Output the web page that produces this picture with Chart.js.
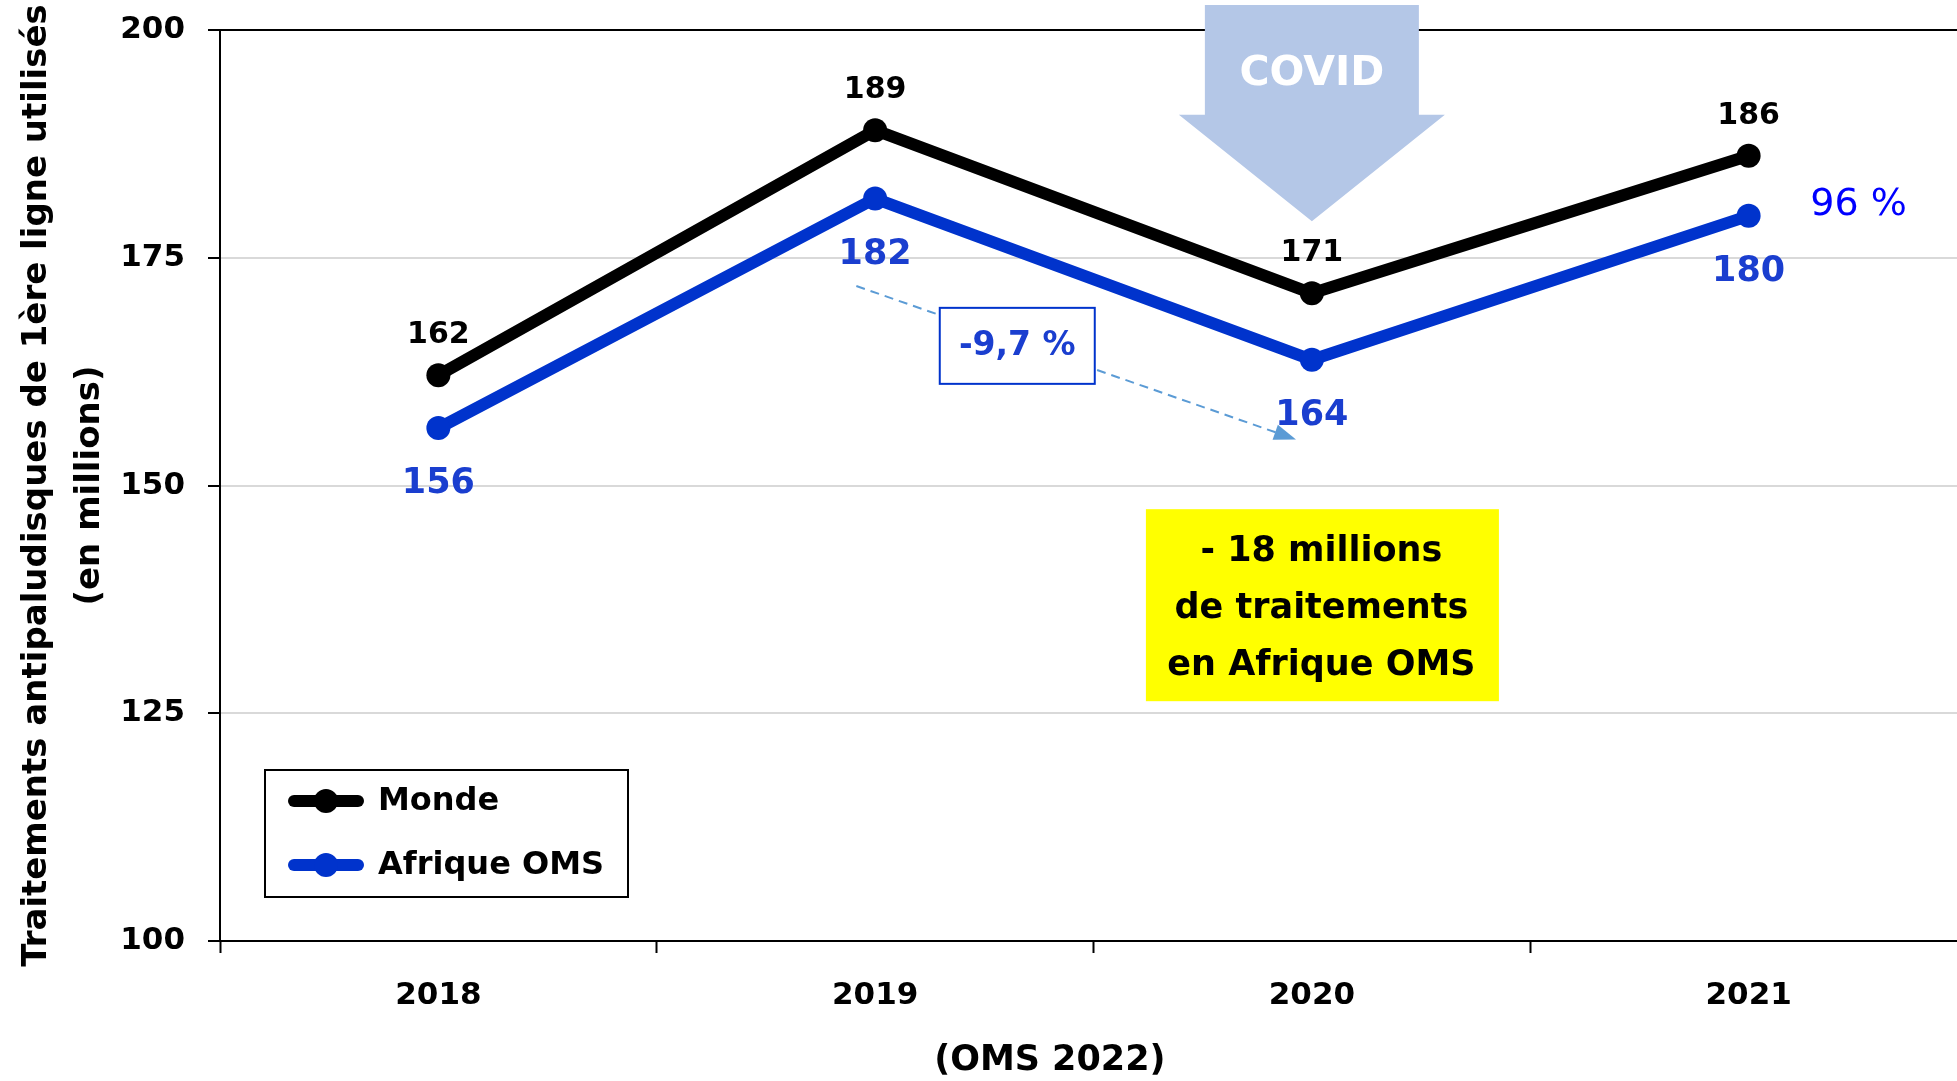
<!DOCTYPE html>
<html><head><meta charset="utf-8">
<script src="https://cdn.jsdelivr.net/npm/chart.js@4.4.0/dist/chart.umd.min.js"></script>
<style>
html,body{margin:0;padding:0;background:#fff;overflow:hidden;width:1957px;height:1081px}
#wrap{position:relative;width:1980px;height:1081px}
</style></head>
<body><div id="wrap"><canvas id="c" width="1980" height="1081"></canvas></div>
<script>
const categories = ['2018', '2019', '2020', '2021'];
const seriesNames = ['Monde', 'Afrique OMS'];
const mondeValues = [162.1, 189.0, 171.1, 186.2];
const afriqueValues = [156.3, 181.5, 163.8, 179.6];
const mondeLabels = ['162', '189', '171', '186'];
const afriqueLabels = ['156', '182', '164', '180'];
const yMin = 100, yMax = 200, yStep = 25;
const yTitleLines = ['Traitements antipaludisques de 1ère ligne utilisés', '(en millions)'];
const xTitle = '(OMS 2022)';
const covidText = 'COVID';
const changeText = '-9,7 %';
const shareText = '96 %';
const boxLines = ['- 18 millions', 'de traitements', 'en Afrique OMS'];

const FONT = '"DejaVu Sans", sans-serif';
const BLACK = '#000000';
const BLUE = '#0033CC';
const BLUE_TXT = '#1A3ECF';

const canvas = document.getElementById('c');
canvas.style.width = '1980px';
canvas.style.height = '1081px';

const labelPlugin = {
  id: 'dataLabels',
  afterDatasetsDraw(chart) {
    const ctx = chart.ctx;
    ctx.save();
    ctx.textAlign = 'center';
    ctx.textBaseline = 'middle';
    const m0 = chart.getDatasetMeta(0).data;
    ctx.fillStyle = BLACK;
    ctx.font = 'bold 30px ' + FONT;
    m0.forEach((p, i) => ctx.fillText(mondeLabels[i], p.x, p.y - 40));
    const m1 = chart.getDatasetMeta(1).data;
    ctx.fillStyle = BLUE_TXT;
    ctx.font = 'bold 35px ' + FONT;
    m1.forEach((p, i) => ctx.fillText(afriqueLabels[i], p.x, p.y + 56));
    const last = m1[m1.length - 1];
    ctx.fillStyle = '#0000FF';
    ctx.font = '38px ' + FONT;
    ctx.fillText(shareText, last.x + 110, chart.scales.y.getPixelForValue(180.8));
    ctx.fillStyle = BLACK;
    ctx.font = 'bold 35px ' + FONT;
    ctx.fillText(xTitle, chart.scales.x.getPixelForValue(1.4), chart.chartArea.bottom + 120);
    ctx.restore();
  }
};

const annotPlugin = {
  id: 'annot',
  beforeDatasetsDraw(chart) {
    const ctx = chart.ctx;
    const x = chart.scales.x, y = chart.scales.y;
    ctx.save();
    const cx = x.getPixelForValue(2);
    const top = 5;
    const headY = y.getPixelForValue(190.7);
    const tipY = y.getPixelForValue(179.0);
    ctx.fillStyle = '#B4C7E7';
    ctx.beginPath();
    ctx.moveTo(cx - 107, top);
    ctx.lineTo(cx + 107, top);
    ctx.lineTo(cx + 107, headY);
    ctx.lineTo(cx + 133, headY);
    ctx.lineTo(cx, tipY);
    ctx.lineTo(cx - 133, headY);
    ctx.lineTo(cx - 107, headY);
    ctx.closePath();
    ctx.fill();
    ctx.fillStyle = '#FFFFFF';
    ctx.font = 'bold 41px ' + FONT;
    ctx.textAlign = 'center';
    ctx.textBaseline = 'middle';
    ctx.fillText(covidText, cx, 74);

    const x1 = x.getPixelForValue(0.957), y1 = y.getPixelForValue(171.9);
    const x2 = x.getPixelForValue(1.955), y2 = y.getPixelForValue(155.2);
    ctx.strokeStyle = '#5B9BD5';
    ctx.lineWidth = 2;
    ctx.setLineDash([9, 6]);
    ctx.beginPath();
    ctx.moveTo(x1, y1);
    ctx.lineTo(x2, y2);
    ctx.stroke();
    ctx.setLineDash([]);
    const ang = Math.atan2(y2 - y1, x2 - x1);
    const hl = 18, hw = 8;
    ctx.fillStyle = '#5B9BD5';
    ctx.beginPath();
    ctx.moveTo(x2 + Math.cos(ang) * 4, y2 + Math.sin(ang) * 4);
    ctx.lineTo(x2 - Math.cos(ang) * hl - Math.sin(ang) * hw, y2 - Math.sin(ang) * hl + Math.cos(ang) * hw);
    ctx.lineTo(x2 - Math.cos(ang) * hl + Math.sin(ang) * hw, y2 - Math.sin(ang) * hl - Math.cos(ang) * hw);
    ctx.closePath();
    ctx.fill();

    const bx = x.getPixelForValue(1.148), by = y.getPixelForValue(169.5);
    const bw = 155, bh = 76;
    ctx.fillStyle = '#FFFFFF';
    ctx.fillRect(bx, by, bw, bh);
    ctx.strokeStyle = BLUE;
    ctx.lineWidth = 2;
    ctx.strokeRect(bx, by, bw, bh);
    ctx.fillStyle = BLUE_TXT;
    ctx.font = 'bold 33px ' + FONT;
    ctx.fillText(changeText, bx + bw / 2, by + bh / 2 + 1);

    const yx = x.getPixelForValue(1.62), yy = y.getPixelForValue(147.4);
    const yw = 353, yh = 192;
    ctx.fillStyle = '#FFFF00';
    ctx.fillRect(yx, yy, yw, yh);
    ctx.fillStyle = BLACK;
    ctx.font = 'bold 35px ' + FONT;
    boxLines.forEach((t, i) => ctx.fillText(t, yx + yw / 2 - 1, yy + 43 + i * 57));
    ctx.restore();
  },
  afterDraw(chart) {
    const ctx = chart.ctx;
    const a = chart.chartArea;
    const lx = a.left + 45, ly = a.bottom - 171, lw = 363, lh = 127;
    ctx.save();
    ctx.fillStyle = '#FFFFFF';
    ctx.fillRect(lx, ly, lw, lh);
    ctx.strokeStyle = BLACK;
    ctx.lineWidth = 2;
    ctx.strokeRect(lx, ly, lw, lh);
    ctx.font = 'bold 32px ' + FONT;
    ctx.textBaseline = 'middle';
    ctx.textAlign = 'left';
    chart.data.datasets.forEach((ds, i) => {
      const cy = ly + 31 + i * 64;
      ctx.strokeStyle = ds.borderColor;
      ctx.lineWidth = 12;
      ctx.lineCap = 'round';
      ctx.beginPath();
      ctx.moveTo(lx + 29, cy);
      ctx.lineTo(lx + 93, cy);
      ctx.stroke();
      ctx.fillStyle = ds.borderColor;
      ctx.beginPath();
      ctx.arc(lx + 61, cy, 12, 0, Math.PI * 2);
      ctx.fill();
      ctx.fillStyle = BLACK;
      ctx.fillText(ds.label, lx + 113, cy + 1);
    });
    ctx.restore();
  }
};

new Chart(canvas, {
  type: 'line',
  data: {
    labels: categories,
    datasets: [
      { label: seriesNames[0], data: mondeValues, borderColor: BLACK, backgroundColor: BLACK,
        borderWidth: 12, pointRadius: 12, pointHoverRadius: 12, pointBorderWidth: 0,
        pointBackgroundColor: BLACK, borderJoinStyle: 'round', tension: 0 },
      { label: seriesNames[1], data: afriqueValues, borderColor: BLUE, backgroundColor: BLUE,
        borderWidth: 12, pointRadius: 12, pointHoverRadius: 12, pointBorderWidth: 0,
        pointBackgroundColor: BLUE, borderJoinStyle: 'round', tension: 0 }
    ]
  },
  options: {
    responsive: false,
    animation: false,
    events: [],
    layout: { padding: { top: 30, right: 13, left: 0, bottom: 0 } },
    plugins: { legend: { display: false }, tooltip: { enabled: false } },
    scales: {
      x: {
        offset: true,
        grid: { offset: true, drawOnChartArea: false, drawTicks: true, tickLength: 12, tickColor: BLACK, tickWidth: 2 },
        border: { color: BLACK, width: 2 },
        ticks: { color: BLACK, font: { family: FONT, size: 31, weight: 'bold' }, padding: 24, maxRotation: 0 },
        title: { display: false },
        afterFit(s) { s.height = 140; }
      },
      y: {
        min: yMin, max: yMax,
        grid: {
          color: c => (c.tick && c.tick.value === yMax) ? BLACK : '#D9D9D9',
          lineWidth: 2, tickLength: 12, tickColor: BLACK, tickWidth: 2
        },
        border: { color: BLACK, width: 2 },
        ticks: { stepSize: yStep, color: BLACK, font: { family: FONT, size: 31, weight: 'bold' }, padding: 23 },
        title: { display: true, text: yTitleLines, color: BLACK, font: { family: FONT, size: 34, weight: 'bold', lineHeight: 1.56 }, padding: { top: 11, bottom: 0 } },
        afterFit(s) { s.width = 220; s.paddingTop = 0; s.paddingBottom = 0; }
      }
    }
  },
  plugins: [annotPlugin, labelPlugin]
});
</script>
</body></html>
